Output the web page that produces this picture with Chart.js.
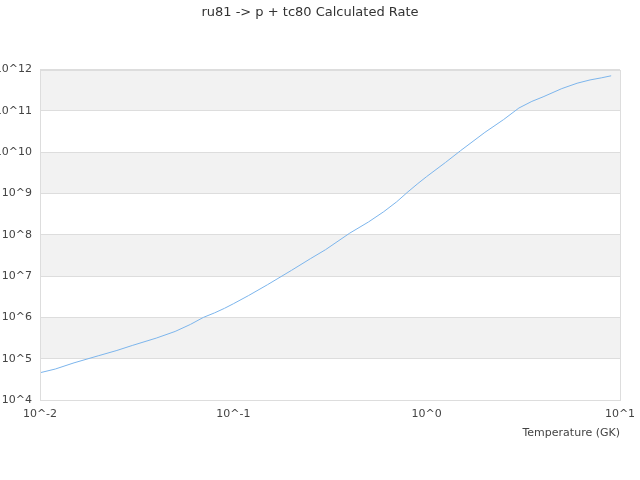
<!DOCTYPE html>
<html><head><meta charset="utf-8">
<script src="https://cdn.jsdelivr.net/npm/chart.js@4/dist/chart.umd.min.js"></script>
<style>html,body{margin:0;padding:0;background:#fff}#wrap{width:640px;height:480px}</style>
</head><body><div id="wrap"><canvas id="c"></canvas></div>
<script>
const titleText = 'ru81 -> p + tc80 Calculated Rate';
const xTitle = 'Temperature (GK)';
const temperatures = [0.01,0.012,0.015,0.02,0.025,0.03,0.04,0.05,0.06,0.07,0.08,0.09,0.1,0.12,0.15,0.2,0.25,0.3,0.4,0.5,0.6,0.7,0.8,0.9,1,1.25,1.5,2,2.5,3,3.5,4,5,6,7,8,9];
const logRates = [4.66,4.75,4.90,5.07,5.20,5.32,5.50,5.66,5.83,6.0,6.11,6.22,6.33,6.53,6.79,7.14,7.42,7.64,8.04,8.31,8.56,8.80,9.04,9.24,9.41,9.75,10.04,10.48,10.79,11.07,11.23,11.34,11.54,11.67,11.75,11.80,11.85];
const xTickValues = [0.01,0.1,1,10];
const xTickLabels = ['10^-2','10^-1','10^0','10^1'];
const yTickValues = [1e4,1e5,1e6,1e7,1e8,1e9,1e10,1e11,1e12];
const yTickLabels = ['10^4','10^5','10^6','10^7','10^8','10^9','10^10','10^11','10^12'];

const points = temperatures.map((t,i)=>({x:t,y:Math.pow(10,logRates[i])}));

const bandPlugin = {
  id:'bands',
  beforeDraw(chart){
    const {ctx, chartArea:a, scales:{y}} = chart;
    ctx.save();
    for(let i=0;i<yTickValues.length-1;i++){
      const exp = Math.round(Math.log10(yTickValues[i]));
      if(exp%2===1){
        const top = y.getPixelForValue(yTickValues[i+1]);
        const bot = y.getPixelForValue(yTickValues[i]);
        ctx.fillStyle='#f2f2f2';
        ctx.fillRect(a.left, top, a.right-a.left, bot-top);
      }
    }
    ctx.restore();
  },
  afterDatasetsDraw(chart){
    const {ctx, chartArea:a} = chart;
    ctx.save();
    ctx.strokeStyle='#dddddd';
    ctx.lineWidth=1;
    ctx.strokeRect(Math.round(a.left)+0.5, Math.round(a.top)+0.5, Math.round(a.right-a.left), Math.round(a.bottom-a.top));
    ctx.restore();
  }
};

Chart.defaults.font.family = 'DejaVu Sans';
Chart.defaults.color = '#444';
new Chart(document.getElementById('c'),{
  type:'line',
  data:{datasets:[{data:points,borderColor:'#7cb5ec',borderWidth:1,pointRadius:0,fill:false,tension:0}]},
  options:{
    responsive:true, maintainAspectRatio:false, animation:false,
    layout:{padding:{left:0,right:20,top:0,bottom:40}},
    plugins:{
      legend:{display:false},
      tooltip:{enabled:false},
      title:{display:true,text:titleText,color:'#333',font:{size:13,weight:'normal'},padding:{top:5,bottom:49}}
    },
    scales:{
      x:{type:'logarithmic',min:0.01,max:10,
        afterBuildTicks(s){s.ticks=xTickValues.map(v=>({value:v}));},
        afterFit(s){s.height=40; s.paddingRight=0; s.paddingLeft=0;},
        ticks:{autoSkip:false,maxRotation:0,padding:8,font:{size:11},callback(v){const i=xTickValues.indexOf(v);return i>=0?xTickLabels[i]:'';}},
        grid:{display:false,drawTicks:false},
        border:{display:false},
        title:{display:true,text:xTitle,align:'end',font:{size:11},padding:{top:1,bottom:0}}
      },
      y:{type:'logarithmic',min:1e4,max:1e12,
        afterBuildTicks(s){s.ticks=yTickValues.map(v=>({value:v}));},
        afterFit(s){s.width=40; s.paddingTop=0; s.paddingBottom=0;},
        ticks:{autoSkip:false,padding:8,font:{size:11},callback(v){const i=yTickValues.indexOf(v);return i>=0?yTickLabels[i]:'';}},
        grid:{color:'#dddddd',drawTicks:false},
        border:{display:false}
      }
    }
  },
  plugins:[bandPlugin]
});
</script></body></html>
